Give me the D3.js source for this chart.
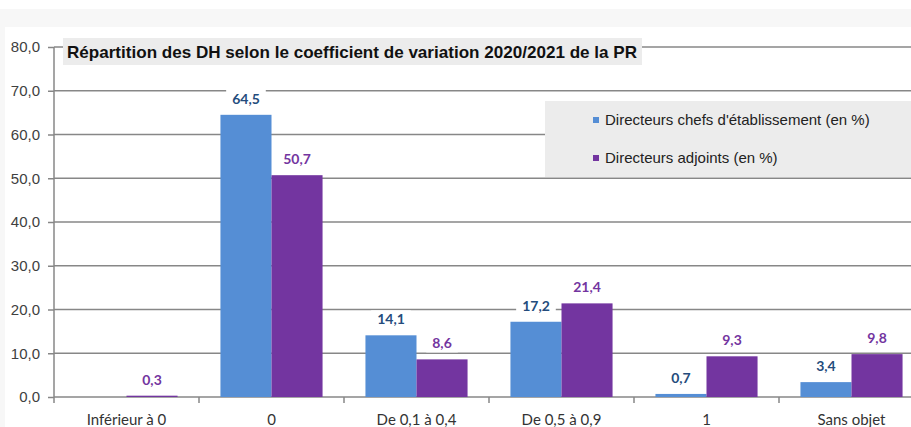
<!DOCTYPE html>
<html>
<head>
<meta charset="utf-8">
<style>
body { margin: 0; background: #fff; }
.grid line { stroke: #878787; stroke-width: 1.5px; }
.axis path, .axis line { stroke: #878787; stroke-width: 1.5px; }
.yaxis text { font: 15px "Liberation Sans", Arial, sans-serif; fill: #404040; }
.xaxis text { font: 15px Lato, sans-serif; fill: #333; }
.lbl { font: bold 14px Lato, sans-serif; text-anchor: middle; }
</style>
<script src="https://d3js.org/d3.v7.min.js"></script>
</head>
<body>
<svg width="911" height="427"></svg>
<script>

var categories = ["Inférieur à 0", "0", "De 0,1 à 0,4", "De 0,5 à 0,9", "1", "Sans objet"];
var chefs   = [null, 64.5, 14.1, 17.2, 0.7, 3.4];
var adjoints = [0.3, 50.7, 8.6, 21.4, 9.3, 9.8];
var seriesNames = ["Directeurs chefs d'établissement (en %)", "Directeurs adjoints (en %)"];
var yTicks = [0, 10, 20, 30, 40, 50, 60, 70, 80];
var title = "Répartition des DH selon le coefficient de variation 2020/2021 de la PR";

var colors = ["#558ed5", "#7335a0"];
var labelColors = ["#244c7c", "#7335a0"];

var svg = d3.select("svg");

// page background
svg.append("rect").attr("width", 911).attr("height", 427).attr("fill", "#f7f7f7");
svg.append("rect").attr("x", 5).attr("y", 27).attr("width", 906).attr("height", 400).attr("fill", "#fff");
svg.append("rect").attr("width", 911).attr("height", 9).attr("fill", "#fff");

var x = d3.scaleBand().domain(categories).range([54, 924]);
var y = d3.scaleLinear().domain([0, 80]).range([397, 47]);

// gridlines
svg.append("g").attr("class", "grid")
  .selectAll("line").data(yTicks.slice(1)).enter().append("line")
  .attr("x1", 54).attr("x2", 924)
  .attr("y1", function(d) { return y(d); })
  .attr("y2", function(d) { return y(d); });

// y axis
svg.append("g").attr("class", "axis yaxis")
  .attr("transform", "translate(54,0)")
  .call(d3.axisLeft(y).tickValues(yTicks).tickSize(6).tickPadding(8)
    .tickFormat(function(d) { return d3.format(".1f")(d).replace(".", ","); }))
  .call(function(g) { g.select(".domain").attr("d", "M0," + y(80) + "V" + y(0)); });

// x axis with ticks at category boundaries
var xg = svg.append("g").attr("class", "axis xaxis")
  .attr("transform", "translate(0,397)");
xg.append("line").attr("x1", 54).attr("x2", 924);
xg.selectAll(".bt").data(categories).enter().append("line")
  .attr("x1", function(d) { return x(d); }).attr("x2", function(d) { return x(d); })
  .attr("y1", 0).attr("y2", 6);
xg.selectAll("text").data(categories).enter().append("text")
  .attr("x", function(d) { return x(d) + x.bandwidth() / 2; })
  .attr("y", 28).attr("text-anchor", "middle")
  .text(function(d) { return d; });

// bars
var inner = d3.scaleBand().domain([0, 1]).range([0, x.bandwidth()]).paddingOuter(0.42).paddingInner(0);
var series = [chefs, adjoints];

series.forEach(function(vals, s) {
  svg.append("g").selectAll("rect").data(categories).enter()
    .filter(function(d, i) { return vals[i] != null; })
    .append("rect")
    .attr("x", function(d) { return x(d) + inner(s); })
    .attr("width", inner.bandwidth())
    .attr("y", function(d) { return y(vals[categories.indexOf(d)]); })
    .attr("height", function(d) { return y(0) - y(vals[categories.indexOf(d)]); })
    .attr("fill", colors[s]);
});

// data labels with white boxes
series.forEach(function(vals, s) {
  categories.forEach(function(c, i) {
    if (vals[i] == null) return;
    var cx = x(c) + inner(s) + inner.bandwidth() / 2;
    var cy = y(vals[i]) - 16;
    var g = svg.append("g");
    var t = g.append("text").attr("class", "lbl")
      .attr("x", cx).attr("y", cy + 5)
      .attr("fill", labelColors[s])
      .text(d3.format(".1f")(vals[i]).replace(".", ","));
    var w = t.node().getComputedTextLength() + 12;
    g.insert("rect", "text").attr("x", cx - w / 2).attr("y", cy - 9)
      .attr("width", w).attr("height", 18).attr("fill", "#fff");
  });
});

// title
svg.append("rect").attr("x", 63).attr("y", 38).attr("width", 579).attr("height", 27).attr("fill", "#ececec");
svg.append("text").attr("x", 67).attr("y", 58)
  .attr("font-family", "Liberation Sans, Arial, sans-serif")
  .attr("font-weight", "bold").attr("font-size", 17).attr("fill", "#111")
  .attr("textLength", 570).attr("lengthAdjust", "spacingAndGlyphs")
  .text(title);

// legend
svg.append("rect").attr("x", 545).attr("y", 101).attr("width", 366).attr("height", 76).attr("fill", "#ececec");
seriesNames.forEach(function(n, s) {
  var ly = 120 + s * 38;
  svg.append("rect").attr("x", 593).attr("y", ly - 3).attr("width", 6).attr("height", 6).attr("fill", colors[s]);
  svg.append("text").attr("x", 605).attr("y", ly + 5)
    .attr("font-family", "Liberation Sans, Arial, sans-serif")
    .attr("font-size", 15).attr("fill", "#222")
    .text(n);
});

</script>
</body>
</html>
